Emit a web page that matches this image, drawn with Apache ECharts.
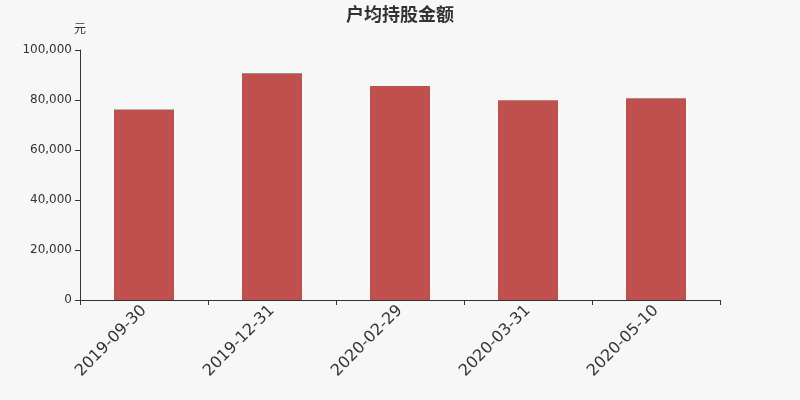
<!DOCTYPE html>
<html><head><meta charset="utf-8">
<script src="https://cdn.jsdelivr.net/npm/echarts@6/dist/echarts.min.js"></script>
<style>html,body{margin:0;padding:0;background:#f7f7f7}#c{width:800px;height:400px}</style>
</head><body><div id="c"></div>
<script>
const categories = ['2019-09-30','2019-12-31','2020-02-29','2020-03-31','2020-05-10'];
const values = [76200, 90700, 85600, 79900, 80700];
const yTicks = [0, 20000, 40000, 60000, 80000, 100000];

const chart = echarts.init(document.getElementById('c'));
chart.setOption({
  backgroundColor: '#f7f7f7',
  animation: false,
  title: { text: '户均持股金额', left: 'center', top: 0, textStyle: { fontSize: 18, fontWeight: 'bold', color: '#333', fontFamily: 'Noto Sans CJK SC' } },
  grid: { left: 80, right: 80, top: 50, bottom: 100 },
  xAxis: {
    type: 'category', data: categories,
    axisLine: { lineStyle: { color: '#333' } },
    axisTick: { show: true, alignWithLabel: false, length: 5, lineStyle: { color: '#333' } },
    axisLabel: { rotate: 45, fontSize: 16, color: '#333', margin: 8, fontFamily: 'DejaVu Sans' }
  },
  yAxis: {
    type: 'value', min: yTicks[0], max: yTicks[yTicks.length-1], interval: 20000,
    name: '元', nameGap: 16, nameTextStyle: { color: '#333', fontSize: 12, align: 'center', fontFamily: 'Noto Sans CJK SC' },
    axisLine: { show: true, lineStyle: { color: '#333' } },
    axisTick: { show: true, length: 5, lineStyle: { color: '#333' } },
    splitLine: { show: false },
    axisLabel: { color: '#333', fontSize: 12, fontFamily: 'DejaVu Sans', formatter: v => v.toLocaleString('en-US') }
  },
  series: [{ type: 'bar', data: values, barWidth: 60, itemStyle: { color: '#c0504d' } }]
});
</script></body></html>
